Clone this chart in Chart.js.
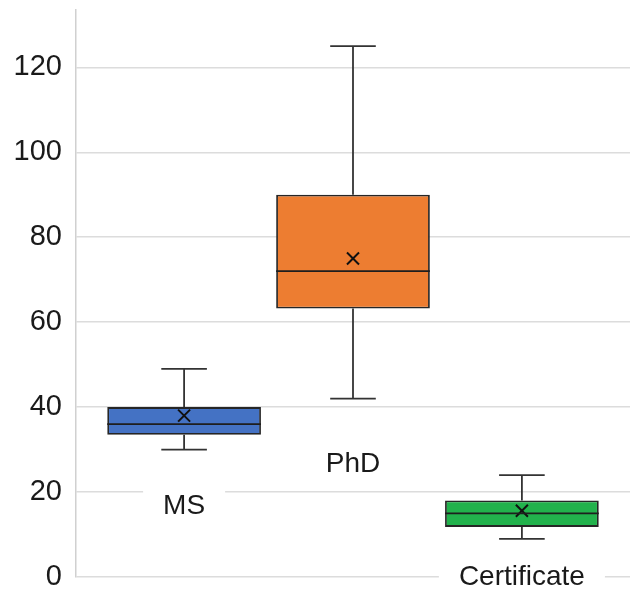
<!DOCTYPE html>
<html>
<head>
<meta charset="utf-8">
<script src="https://cdn.jsdelivr.net/npm/chart.js@4/dist/chart.umd.min.js"></script>
<style>
  html, body { margin: 0; padding: 0; background: #fff; }
  #wrap { width: 630px; height: 597px; }
</style>
</head>
<body>
<div id="wrap"><canvas id="boxChart"></canvas></div>
<script>
// categories and their position on the x axis
const categories = ["MS", "PhD", "Certificate"];
const positions = [1, 2, 3];

// five-number summaries
const minValues = [30, 42, 9];
const q1Values = [33.5, 63.2, 11.8];
const medianValues = [36, 72, 15];
const q3Values = [40, 90, 18];
const maxValues = [49, 125, 24];
const meanValues = [38, 75, 15.6];

// where each category name sits (in y values)
const labelValues = [17, 26.8, 0.2];

const yTicks = [0, 20, 40, 60, 80, 100, 120];

const boxColors = ["#4472C4", "#ED7D31", "#22B24C"];

// whiskers, medians and name labels drawn through the scales
const boxExtras = {
  id: "boxExtras",
  beforeDatasetsDraw(chart) {
    const { ctx, scales: { x, y } } = chart;
    ctx.save();
    ctx.strokeStyle = "#333";
    ctx.lineWidth = 1.8;
    positions.forEach((p, i) => {
      const cx = x.getPixelForValue(p);
      const capL = x.getPixelForValue(p - 0.135);
      const capR = x.getPixelForValue(p + 0.135);
      ctx.beginPath();
      ctx.moveTo(cx, y.getPixelForValue(maxValues[i]));
      ctx.lineTo(cx, y.getPixelForValue(q3Values[i]));
      ctx.moveTo(cx, y.getPixelForValue(q1Values[i]));
      ctx.lineTo(cx, y.getPixelForValue(minValues[i]));
      ctx.moveTo(capL, y.getPixelForValue(maxValues[i]));
      ctx.lineTo(capR, y.getPixelForValue(maxValues[i]));
      ctx.moveTo(capL, y.getPixelForValue(minValues[i]));
      ctx.lineTo(capR, y.getPixelForValue(minValues[i]));
      ctx.stroke();
    });
    ctx.restore();
  },
  afterDatasetsDraw(chart) {
    const { ctx, scales: { x, y } } = chart;
    const meta = chart.getDatasetMeta(0);
    ctx.save();
    ctx.strokeStyle = "#1e1e1e";
    ctx.lineWidth = 1.8;
    meta.data.forEach((bar, i) => {
      const half = bar.width / 2;
      const my = y.getPixelForValue(medianValues[i]);
      ctx.beginPath();
      ctx.moveTo(bar.x - half, my);
      ctx.lineTo(bar.x + half, my);
      ctx.stroke();
    });

    ctx.font = "28px 'Liberation Sans', Arial, sans-serif";
    ctx.textAlign = "center";
    ctx.textBaseline = "middle";
    categories.forEach((name, i) => {
      const cx = x.getPixelForValue(positions[i]);
      const cy = y.getPixelForValue(labelValues[i]);
      const w = ctx.measureText(name).width + 40;
      ctx.fillStyle = "#fff";
      ctx.fillRect(cx - w / 2, cy - 17, w, 34);
      ctx.fillStyle = "#1a1a1a";
      ctx.fillText(name, cx, cy + 1);
    });
    ctx.restore();
  }
};

new Chart(document.getElementById("boxChart"), {
  type: "bar",
  data: {
    datasets: [
      {
        type: "bar",
        label: "Box",
        data: positions.map((p, i) => ({ x: p, y: [q1Values[i], q3Values[i]] })),
        backgroundColor: boxColors,
        borderColor: "#262626",
        borderWidth: 1.8,
        borderSkipped: false,
        barPercentage: 0.91,
        categoryPercentage: 1.0,
        order: 2
      },
      {
        type: "scatter",
        label: "Mean",
        data: positions.map((p, i) => ({ x: p, y: meanValues[i] })),
        pointStyle: "crossRot",
        pointRadius: 8.5,
        borderColor: "#111",
        borderWidth: 2,
        order: 1
      }
    ]
  },
  options: {
    responsive: true,
    maintainAspectRatio: false,
    animation: false,
    layout: { autoPadding: false, padding: { left: 0, top: 10, right: 0, bottom: 20 } },
    plugins: {
      legend: { display: false },
      tooltip: { enabled: false }
    },
    scales: {
      x: {
        type: "linear",
        min: 0.36,
        max: 3.64,
        offset: false,
        display: false,
        grid: { offset: false },
        afterBuildTicks(axis) {
          axis.ticks = positions.map(v => ({ value: v }));
        }
      },
      y: {
        min: 0,
        max: 133.5,
        afterBuildTicks(axis) {
          axis.ticks = yTicks.map(v => ({ value: v }));
        },
        afterFit(axis) {
          axis.width = 76;
          axis.paddingTop = 0;
          axis.paddingBottom = 0;
        },
        ticks: {
          padding: 14,
          color: "#1a1a1a",
          font: { family: "'Liberation Sans', Arial, sans-serif", size: 29 }
        },
        grid: {
          color: "#dcdcdc",
          lineWidth: 1.5,
          drawTicks: false
        },
        border: { color: "#d0d0d0", width: 1.5 }
      }
    }
  },
  plugins: [boxExtras]
});
</script>
</body>
</html>
